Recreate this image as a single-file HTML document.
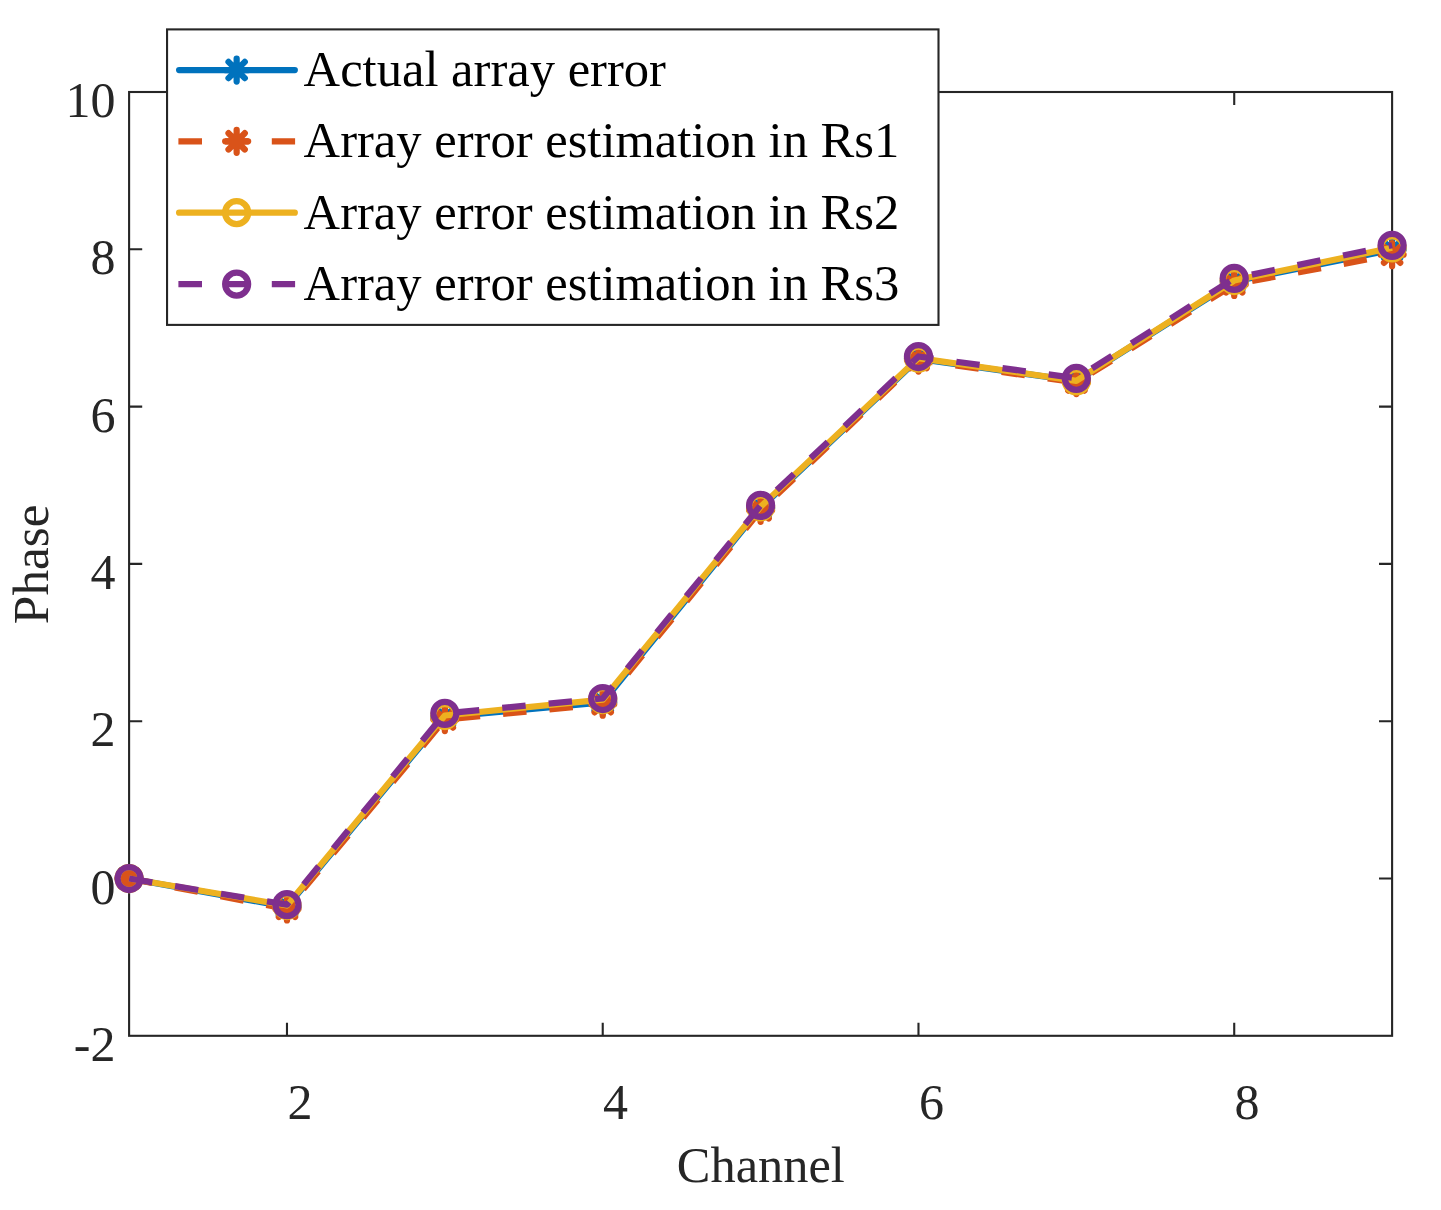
<!DOCTYPE html>
<html><head><meta charset="utf-8"><title>Phase vs Channel</title>
<style>
html,body{margin:0;padding:0;background:#fff;}
svg{display:block;}
text{font-family:"Liberation Serif",serif;font-size:50px;font-kerning:none;font-variant-ligatures:none;}
</style></head><body>
<svg width="1441" height="1210" viewBox="0 0 1441 1210">
<rect width="1441" height="1210" fill="#fff"/>
<rect x="129.1" y="92.0" width="1263.0" height="943.8" fill="none" stroke="#262626" stroke-width="2.1"/>
<path d="M286.98 1035.8V1022.6999999999999M286.98 92.0V105.1M602.73 1035.8V1022.6999999999999M602.73 92.0V105.1M918.48 1035.8V1022.6999999999999M918.48 92.0V105.1M1234.22 1035.8V1022.6999999999999M1234.22 92.0V105.1M129.1 878.50H142.2M1392.1 878.50H1379.0M129.1 721.20H142.2M1392.1 721.20H1379.0M129.1 563.90H142.2M1392.1 563.90H1379.0M129.1 406.60H142.2M1392.1 406.60H1379.0M129.1 249.30H142.2M1392.1 249.30H1379.0" stroke="#262626" stroke-width="2.1" fill="none"/>
<text x="287.38" y="1119.4" fill="#262626">2</text>
<text x="603.12" y="1119.4" fill="#262626">4</text>
<text x="918.88" y="1119.4" fill="#262626">6</text>
<text x="1234.62" y="1119.4" fill="#262626">8</text>
<text x="115.4" y="1060.80" text-anchor="end" fill="#262626">-2</text>
<text x="115.4" y="903.50" text-anchor="end" fill="#262626">0</text>
<text x="115.4" y="746.20" text-anchor="end" fill="#262626">2</text>
<text x="115.4" y="588.90" text-anchor="end" fill="#262626">4</text>
<text x="115.4" y="431.60" text-anchor="end" fill="#262626">6</text>
<text x="115.4" y="274.30" text-anchor="end" fill="#262626">8</text>
<text x="115.4" y="117.00" text-anchor="end" fill="#262626">10</text>
<text x="760.8" y="1181.6" text-anchor="middle" fill="#262626" style="font-size:50.4px">Channel</text>
<text transform="translate(47.9 564.3) rotate(-90)" text-anchor="middle" fill="#262626" style="font-size:51.3px">Phase</text>
<polyline points="129.10,878.50 286.98,906.80 444.85,717.00 602.73,702.30 760.60,508.00 918.48,358.80 1076.35,381.00 1234.22,281.50 1392.10,249.80" fill="none" stroke="#0072BD" stroke-width="6.25" stroke-linejoin="round"/>
<path d="M117.60 878.50H140.60M129.10 867.00V890.00M120.97 870.37L137.23 886.63M120.97 886.63L137.23 870.37" stroke="#0072BD" stroke-width="6.25" stroke-linecap="round" fill="none"/>
<path d="M275.48 906.80H298.48M286.98 895.30V918.30M278.84 898.67L295.11 914.93M278.84 914.93L295.11 898.67" stroke="#0072BD" stroke-width="6.25" stroke-linecap="round" fill="none"/>
<path d="M433.35 717.00H456.35M444.85 705.50V728.50M436.72 708.87L452.98 725.13M436.72 725.13L452.98 708.87" stroke="#0072BD" stroke-width="6.25" stroke-linecap="round" fill="none"/>
<path d="M591.23 702.30H614.23M602.73 690.80V713.80M594.59 694.17L610.86 710.43M594.59 710.43L610.86 694.17" stroke="#0072BD" stroke-width="6.25" stroke-linecap="round" fill="none"/>
<path d="M749.10 508.00H772.10M760.60 496.50V519.50M752.47 499.87L768.73 516.13M752.47 516.13L768.73 499.87" stroke="#0072BD" stroke-width="6.25" stroke-linecap="round" fill="none"/>
<path d="M906.98 358.80H929.98M918.48 347.30V370.30M910.34 350.67L926.61 366.93M910.34 366.93L926.61 350.67" stroke="#0072BD" stroke-width="6.25" stroke-linecap="round" fill="none"/>
<path d="M1064.85 381.00H1087.85M1076.35 369.50V392.50M1068.22 372.87L1084.48 389.13M1068.22 389.13L1084.48 372.87" stroke="#0072BD" stroke-width="6.25" stroke-linecap="round" fill="none"/>
<path d="M1222.72 281.50H1245.72M1234.22 270.00V293.00M1226.09 273.37L1242.36 289.63M1226.09 289.63L1242.36 273.37" stroke="#0072BD" stroke-width="6.25" stroke-linecap="round" fill="none"/>
<path d="M1380.60 249.80H1403.60M1392.10 238.30V261.30M1383.97 241.67L1400.23 257.93M1383.97 257.93L1400.23 241.67" stroke="#0072BD" stroke-width="6.25" stroke-linecap="round" fill="none"/>
<polyline points="129.10,878.50 286.98,908.90 444.85,719.50 602.73,704.20 760.60,510.30 918.48,360.10 1076.35,382.50 1234.22,284.40 1392.10,254.70" fill="none" stroke="#D95319" stroke-width="6.25" stroke-dasharray="23.5 23.08" stroke-linejoin="round"/>
<path d="M117.60 878.50H140.60M129.10 867.00V890.00M120.97 870.37L137.23 886.63M120.97 886.63L137.23 870.37" stroke="#D95319" stroke-width="6.25" stroke-linecap="round" fill="none"/>
<path d="M275.48 908.90H298.48M286.98 897.40V920.40M278.84 900.77L295.11 917.03M278.84 917.03L295.11 900.77" stroke="#D95319" stroke-width="6.25" stroke-linecap="round" fill="none"/>
<path d="M433.35 719.50H456.35M444.85 708.00V731.00M436.72 711.37L452.98 727.63M436.72 727.63L452.98 711.37" stroke="#D95319" stroke-width="6.25" stroke-linecap="round" fill="none"/>
<path d="M591.23 704.20H614.23M602.73 692.70V715.70M594.59 696.07L610.86 712.33M594.59 712.33L610.86 696.07" stroke="#D95319" stroke-width="6.25" stroke-linecap="round" fill="none"/>
<path d="M749.10 510.30H772.10M760.60 498.80V521.80M752.47 502.17L768.73 518.43M752.47 518.43L768.73 502.17" stroke="#D95319" stroke-width="6.25" stroke-linecap="round" fill="none"/>
<path d="M906.98 360.10H929.98M918.48 348.60V371.60M910.34 351.97L926.61 368.23M910.34 368.23L926.61 351.97" stroke="#D95319" stroke-width="6.25" stroke-linecap="round" fill="none"/>
<path d="M1064.85 382.50H1087.85M1076.35 371.00V394.00M1068.22 374.37L1084.48 390.63M1068.22 390.63L1084.48 374.37" stroke="#D95319" stroke-width="6.25" stroke-linecap="round" fill="none"/>
<path d="M1222.72 284.40H1245.72M1234.22 272.90V295.90M1226.09 276.27L1242.36 292.53M1226.09 292.53L1242.36 276.27" stroke="#D95319" stroke-width="6.25" stroke-linecap="round" fill="none"/>
<path d="M1380.60 254.70H1403.60M1392.10 243.20V266.20M1383.97 246.57L1400.23 262.83M1383.97 262.83L1400.23 246.57" stroke="#D95319" stroke-width="6.25" stroke-linecap="round" fill="none"/>
<polyline points="129.10,878.50 286.98,905.50 444.85,715.50 602.73,699.70 760.60,506.80 918.48,358.10 1076.35,380.80 1234.22,280.50 1392.10,247.80" fill="none" stroke="#EDB120" stroke-width="6.25" stroke-linejoin="round"/>
<circle cx="129.10" cy="878.50" r="11.5" stroke="#EDB120" stroke-width="6.25" fill="none"/>
<circle cx="286.98" cy="905.50" r="11.5" stroke="#EDB120" stroke-width="6.25" fill="none"/>
<circle cx="444.85" cy="715.50" r="11.5" stroke="#EDB120" stroke-width="6.25" fill="none"/>
<circle cx="602.73" cy="699.70" r="11.5" stroke="#EDB120" stroke-width="6.25" fill="none"/>
<circle cx="760.60" cy="506.80" r="11.5" stroke="#EDB120" stroke-width="6.25" fill="none"/>
<circle cx="918.48" cy="358.10" r="11.5" stroke="#EDB120" stroke-width="6.25" fill="none"/>
<circle cx="1076.35" cy="380.80" r="11.5" stroke="#EDB120" stroke-width="6.25" fill="none"/>
<circle cx="1234.22" cy="280.50" r="11.5" stroke="#EDB120" stroke-width="6.25" fill="none"/>
<circle cx="1392.10" cy="247.80" r="11.5" stroke="#EDB120" stroke-width="6.25" fill="none"/>
<polyline points="129.10,878.50 286.98,904.70 444.85,713.30 602.73,698.50 760.60,505.40 918.48,356.50 1076.35,378.30 1234.22,278.30 1392.10,245.30" fill="none" stroke="#7E2F8E" stroke-width="6.25" stroke-dasharray="23.5 23.08" stroke-linejoin="round"/>
<circle cx="129.10" cy="878.50" r="11.5" stroke="#7E2F8E" stroke-width="6.25" fill="none"/>
<circle cx="286.98" cy="904.70" r="11.5" stroke="#7E2F8E" stroke-width="6.25" fill="none"/>
<circle cx="444.85" cy="713.30" r="11.5" stroke="#7E2F8E" stroke-width="6.25" fill="none"/>
<circle cx="602.73" cy="698.50" r="11.5" stroke="#7E2F8E" stroke-width="6.25" fill="none"/>
<circle cx="760.60" cy="505.40" r="11.5" stroke="#7E2F8E" stroke-width="6.25" fill="none"/>
<circle cx="918.48" cy="356.50" r="11.5" stroke="#7E2F8E" stroke-width="6.25" fill="none"/>
<circle cx="1076.35" cy="378.30" r="11.5" stroke="#7E2F8E" stroke-width="6.25" fill="none"/>
<circle cx="1234.22" cy="278.30" r="11.5" stroke="#7E2F8E" stroke-width="6.25" fill="none"/>
<circle cx="1392.10" cy="245.30" r="11.5" stroke="#7E2F8E" stroke-width="6.25" fill="none"/>
<rect x="167.05" y="29.4" width="771.45" height="295.5" fill="#fff" stroke="#262626" stroke-width="2.1"/>
<path d="M179.1 70.0H294.8" stroke="#0072BD" stroke-width="6.25" stroke-linecap="round" fill="none"/>
<path d="M225.15 70.00H248.15M236.65 58.50V81.50M228.52 61.87L244.78 78.13M228.52 78.13L244.78 61.87" stroke="#0072BD" stroke-width="6.25" stroke-linecap="round" fill="none"/>
<text x="303.6" y="85.80" fill="#000" style="font-size:50.6px">Actual array error</text>
<path d="M178.4 141.3H295.1" stroke="#D95319" stroke-width="6.25" stroke-dasharray="23.6 23.1" fill="none"/>
<path d="M225.15 141.30H248.15M236.65 129.80V152.80M228.52 133.17L244.78 149.43M228.52 149.43L244.78 133.17" stroke="#D95319" stroke-width="6.25" stroke-linecap="round" fill="none"/>
<text x="303.6" y="157.10" fill="#000" style="font-size:50.6px">Array error estimation in Rs1</text>
<path d="M179.1 212.7H294.8" stroke="#EDB120" stroke-width="6.25" stroke-linecap="round" fill="none"/>
<circle cx="236.65" cy="212.70" r="11.5" stroke="#EDB120" stroke-width="6.25" fill="none"/>
<text x="303.6" y="228.50" fill="#000" style="font-size:50.6px">Array error estimation in Rs2</text>
<path d="M178.4 284.1H295.1" stroke="#7E2F8E" stroke-width="6.25" stroke-dasharray="23.6 23.1" fill="none"/>
<circle cx="236.65" cy="284.10" r="11.5" stroke="#7E2F8E" stroke-width="6.25" fill="none"/>
<text x="303.6" y="299.90" fill="#000" style="font-size:50.6px">Array error estimation in Rs3</text>
</svg></body></html>
